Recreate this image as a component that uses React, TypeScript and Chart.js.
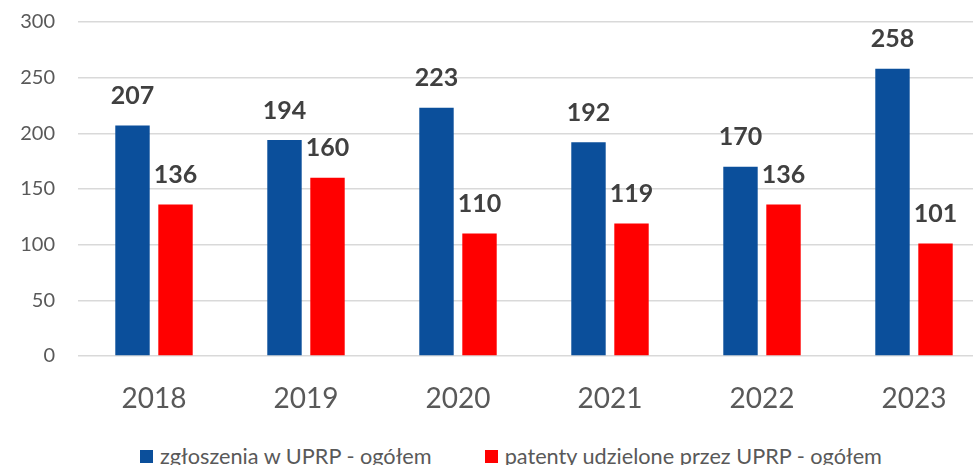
import React, { useEffect, useRef } from "react";
import { Chart, registerables } from "chart.js";

Chart.register(...registerables);

const categories = ["2018", "2019", "2020", "2021", "2022", "2023"];
const applications = [207, 194, 223, 192, 170, 258];
const patents = [136, 160, 110, 119, 136, 101];
const yTicks = [0, 50, 100, 150, 200, 250, 300];
const seriesNames = ["zgłoszenia w UPRP - ogółem", "patenty udzielone przez UPRP - ogółem"];
const seriesColors = ["#0B4F9B", "#FF0000"];

const FONT = "Lato, 'Open Sans', sans-serif";

const valueLabels = {
  id: "valueLabels",
  afterDatasetsDraw(chart: any) {
    const ctx = chart.ctx;
    ctx.save();
    ctx.font = `bold 25px ${FONT}`;
    ctx.fillStyle = "#404040";
    ctx.textAlign = "center";
    ctx.textBaseline = "bottom";
    chart.data.datasets.forEach((ds: any, i: number) => {
      const meta = chart.getDatasetMeta(i);
      meta.data.forEach((bar: any, j: number) => {
        ctx.fillText(String(ds.data[j]), bar.x, bar.y - 17);
      });
    });
    ctx.restore();
  },
};

export default function App() {
  const ref = useRef<HTMLCanvasElement>(null);
  useEffect(() => {
    const chart = new Chart(ref.current!, {
      type: "bar",
      data: {
        labels: categories,
        datasets: [
          { label: seriesNames[0], data: applications, backgroundColor: seriesColors[0] },
          { label: seriesNames[1], data: patents, backgroundColor: seriesColors[1] },
        ],
      },
      options: {
        responsive: false,
        animation: false,
        categoryPercentage: 0.566,
        barPercentage: 0.8,
        layout: { padding: { top: 8, right: 36, left: 0, bottom: 0 } },
        plugins: { legend: { display: false }, tooltip: { enabled: false } },
        scales: {
          x: {
            grid: { display: false, drawTicks: false },
            border: { display: false },
            ticks: { color: "#595959", font: { family: FONT, size: 28 }, padding: 26 },
            afterFit(axis: any) {
              axis.height = 74;
            },
          },
          y: {
            min: 0,
            max: 300,
            afterBuildTicks(axis: any) {
              axis.ticks = yTicks.map((v) => ({ value: v }));
            },
            grid: { color: "#D9D9D9", lineWidth: 1.5, drawTicks: false },
            border: { display: false },
            ticks: { color: "#595959", font: { family: FONT, size: 20 }, padding: 23 },
            afterFit(axis: any) {
              axis.width = 78;
            },
          },
        },
      },
      plugins: [valueLabels],
    });
    return () => chart.destroy();
  }, []);

  return (
    <div style={{ position: "absolute", left: 0, top: 0, width: 973, height: 465, overflow: "hidden", background: "#fff" }}>
      <canvas ref={ref} width={1026} height={443} style={{ position: "absolute", left: 0, top: -13 }} />
      <div
        style={{
          position: "absolute",
          left: 140,
          top: 444,
          display: "flex",
          alignItems: "center",
          fontFamily: FONT,
          fontSize: 21.7,
          color: "#595959",
          whiteSpace: "nowrap",
          lineHeight: "24px",
        }}
      >
        {seriesNames.map((name, i) => (
          <div key={name} style={{ display: "flex", alignItems: "center", marginRight: i === 0 ? 53 : 0 }}>
            <span style={{ display: "inline-block", width: 13, height: 13, background: seriesColors[i], marginRight: 7 }} />
            <span>{name}</span>
          </div>
        ))}
      </div>
    </div>
  );
}
